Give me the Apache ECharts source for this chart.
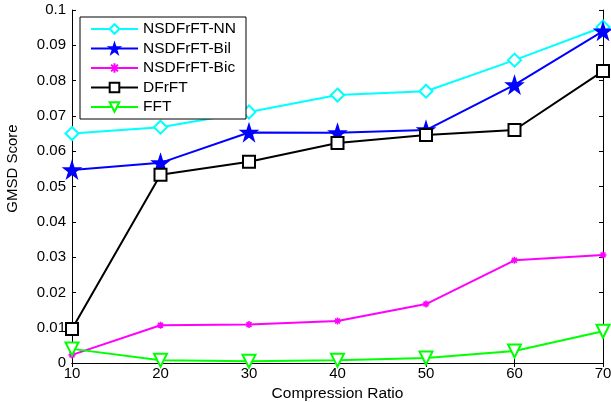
<!DOCTYPE html>
<html><head><meta charset="utf-8">
<script src="https://cdn.jsdelivr.net/npm/echarts@6/dist/echarts.min.js"></script>
<style>html,body{margin:0;padding:0;background:#fff}#c{width:611px;height:402px}</style>
</head><body><div id="c"></div>
<script>
var ratios = [10, 20, 30, 40, 50, 60, 70];
var nsdfrftNN  = [0.0650, 0.0668, 0.0711, 0.0759, 0.0770, 0.0858, 0.0952];
var nsdfrftBil = [0.0547, 0.0567, 0.0653, 0.0652, 0.0660, 0.0788, 0.0940];
var nsdfrftBic = [0.0023, 0.0107, 0.0109, 0.0119, 0.0167, 0.0291, 0.0306];
var dfrft      = [0.0096, 0.0533, 0.0570, 0.0623, 0.0646, 0.0660, 0.0827];
var fft        = [0.0040, 0.0008, 0.0005, 0.0008, 0.0014, 0.0034, 0.0090];
var seriesNames = ['NSDFrFT-NN', 'NSDFrFT-Bil', 'NSDFrFT-Bic', 'DFrFT', 'FFT'];
var xTicks = [10, 20, 30, 40, 50, 60, 70];
var yTicks = [0, 0.01, 0.02, 0.03, 0.04, 0.05, 0.06, 0.07, 0.08, 0.09, 0.1];

function pairs(vals){ return ratios.map(function(x,i){ return [x, vals[i]]; }); }
var starPath = 'path://M50,0 L61.8,35.1 L98.9,35.1 L68.9,56.9 L80.3,91.9 L50,70.2 L19.7,91.9 L31.1,56.9 L1.1,35.1 L38.2,35.1 Z';
var asteriskPath = 'path://M50,0 L50,100 M0,50 L100,50 M15,15 L85,85 M85,15 L15,85';
var font = 'Liberation Sans, Arial, sans-serif';

var chart = echarts.init(document.getElementById('c'));
function mk(name, vals, color, symbol, size, extra){
  var s = {
    name: name, type: 'line', data: pairs(vals), xAxisIndex: 0, yAxisIndex: 0,
    symbol: symbol, symbolSize: size,
    lineStyle: { color: color, width: 2 },
    itemStyle: { color: color, borderColor: color, borderWidth: 1.6 },
    emphasis: { disabled: true }, animation: false
  };
  if (extra) for (var k in extra) s[k] = extra[k];
  return s;
}
chart.setOption({
  backgroundColor: '#fff',
  animation: false,
  grid: { left: 72, right: 8, top: 10, bottom: 39, containLabel: false, outerBoundsMode: 'none' },
  legend: {
    left: 80, top: 17, orient: 'vertical',
    data: seriesNames,
    itemWidth: 47, itemHeight: 12, itemGap: 3.5,
    padding: [4, 10, 4, 10],
    borderColor: '#000', borderWidth: 1, backgroundColor: '#fff',
    textStyle: { fontFamily: font, fontSize: 15.5, color: '#000' }
  },
  xAxis: [{
    type: 'value', min: 10, max: 70, interval: 10,
    name: 'Compression Ratio', nameLocation: 'middle', nameGap: 21,
    nameTextStyle: { fontFamily: font, fontSize: 15.5, color: '#000' },
    axisLine: { lineStyle: { color: '#000', width: 1 } },
    axisTick: { inside: true, length: 4, lineStyle: { color: '#000' } },
    axisLabel: { fontFamily: font, fontSize: 15, color: '#000', margin: 3 },
    splitLine: { show: false }
  }, {
    type: 'value', min: 10, max: 70, interval: 10, position: 'top',
    axisLine: { lineStyle: { color: '#000', width: 1 } },
    axisTick: { inside: true, length: 4, lineStyle: { color: '#000' } },
    axisLabel: { show: false }, splitLine: { show: false }
  }],
  yAxis: [{
    type: 'value', min: 0, max: 0.1, interval: 0.01,
    name: 'GMSD Score', nameLocation: 'middle', nameGap: 52,
    nameTextStyle: { fontFamily: font, fontSize: 15, color: '#000', padding: [0, 0, 0, 36] },
    axisLine: { show: true, lineStyle: { color: '#000', width: 1 } },
    axisTick: { show: true, inside: true, length: 4, lineStyle: { color: '#000' } },
    axisLabel: { fontFamily: font, fontSize: 15, color: '#000', margin: 6,
      formatter: function(v){ return String(Math.round(v*100)/100); } },
    splitLine: { show: false }
  }, {
    type: 'value', min: 0, max: 0.1, interval: 0.01, position: 'right',
    axisLine: { show: true, lineStyle: { color: '#000', width: 1 } },
    axisTick: { show: true, inside: true, length: 4, lineStyle: { color: '#000' } },
    axisLabel: { show: false }, splitLine: { show: false }
  }],
  series: [
    mk('NSDFrFT-NN', nsdfrftNN, '#00ffff', 'emptyDiamond', 13),
    mk('NSDFrFT-Bil', nsdfrftBil, '#0000ff', starPath, 16),
    mk('NSDFrFT-Bic', nsdfrftBic, '#ff00ff', asteriskPath, 7),
    mk('DFrFT', dfrft, '#000000', 'emptyRect', 12),
    mk('FFT', fft, '#00ff00', 'emptyTriangle', 13, { symbolRotate: 180 })
  ]
});
</script></body></html>
